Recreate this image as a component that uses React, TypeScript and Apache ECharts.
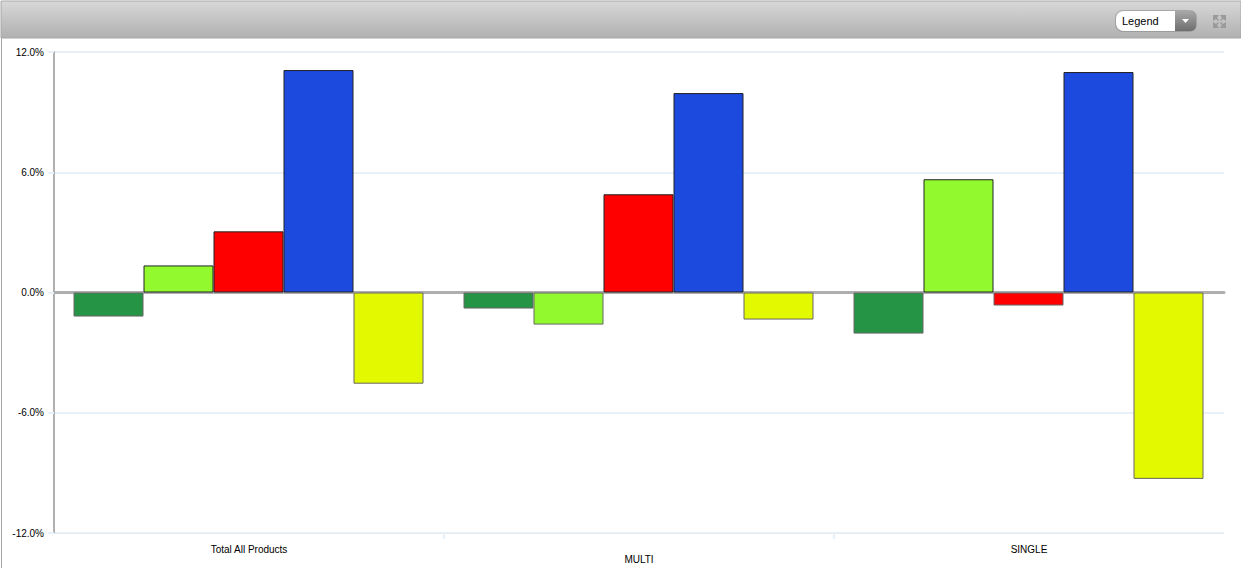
import React, { useEffect, useRef } from "react";
import * as echarts from "echarts";

const categories = ["Total All Products", "MULTI", "SINGLE"];
const seriesNames = ["Series 1", "Series 2", "Series 3", "Series 4", "Series 5"];
const seriesColors = ["#259445", "#92F92F", "#FF0000", "#1C49DE", "#E3F900"];
const values1 = [-1.2, -0.8, -2.05];
const values2 = [1.35, -1.6, 5.65];
const values3 = [3.05, 4.9, -0.65];
const values4 = [11.1, 9.95, 11.0];
const values5 = [-4.55, -1.35, -9.3];
const allValues = [values1, values2, values3, values4, values5];
const boundaryTicks = [1, 2];

export default function App() {
  const ref = useRef<HTMLDivElement>(null);
  useEffect(() => {
    document.body.style.margin = "0";
    document.body.style.background = "#fff";
    const chart = echarts.init(ref.current!, undefined, { renderer: "svg" });
    const arrows = [
      [[1213, 15], [1219, 15], [1217, 18], [1219, 20], [1218, 21], [1216, 19], [1213, 21]],
      [[1226, 15], [1220, 15], [1222, 18], [1220, 20], [1221, 21], [1223, 19], [1226, 21]],
      [[1213, 28], [1219, 28], [1217, 25], [1219, 23], [1218, 22], [1216, 24], [1213, 22]],
      [[1226, 28], [1220, 28], [1222, 25], [1220, 23], [1221, 22], [1223, 24], [1226, 22]],
    ];
    chart.setOption({
      animation: false,
      backgroundColor: "#fff",
      textStyle: { fontFamily: "Liberation Sans" },
      grid: { left: 54, right: 17, top: 52, bottom: 35 },
      xAxis: [
        {
          type: "category",
          data: categories,
          position: "bottom",
          axisLine: { onZero: false, show: true, lineStyle: { color: "#E6ECF0", width: 1 } },
          axisTick: { show: false },
          axisLabel: {
            color: "#000",
            fontSize: 10,
            margin: 11,
            lineHeight: 10,
            interval: 0,
            formatter: (v: string, i: number) => (i % 2 === 1 ? `\n${v}` : `${v}\n`),
          },
        },
        {
          type: "value",
          min: 0,
          max: categories.length,
          position: "bottom",
          axisLine: { onZero: false, show: false },
          axisLabel: { show: false },
          splitLine: { show: false },
          axisTick: {
            show: true,
            length: 6,
            customValues: boundaryTicks,
            lineStyle: { color: "#E8F0F8", width: 2 },
          },
        },
        {
          type: "category",
          data: categories,
          position: "bottom",
          axisLine: { onZero: true, show: true, lineStyle: { color: "#AFAFAF", width: 3 } },
          axisTick: { show: false },
          axisLabel: { show: false },
        },
      ],
      yAxis: {
        type: "value",
        min: -12,
        max: 12,
        interval: 6,
        axisLine: { show: true, lineStyle: { color: "#B0B0B0", width: 2 } },
        axisTick: { show: true, length: 6, lineStyle: { color: "#E8F0F8", width: 2 } },
        axisLabel: {
          color: "#000",
          fontSize: 10,
          margin: 10,
          formatter: (v: number) => `${v.toFixed(1)}%`,
        },
        splitLine: { show: true, lineStyle: { color: "#E8F0F8", width: 2 } },
      },
      series: [
        ...allValues.map((vals, s) => ({
          type: "bar",
          name: seriesNames[s],
          barWidth: 70,
          barGap: 0,
          data: vals.map((v) => ({
            value: v,
            itemStyle: {
              color: seriesColors[s],
              borderWidth: 1,
              borderColor: v >= 0 ? "#222222" : "#666666",
            },
          })),
        })),
        { type: "bar", name: "spacer", barWidth: 1, barGap: 0, data: [] },
      ],
      graphic: [
        {
          type: "rect",
          silent: true,
          shape: { x: 1, y: 1, width: 1240, height: 37 },
          style: {
            fill: new echarts.graphic.LinearGradient(0, 0, 0, 1, [
              { offset: 0, color: "#D8D8D8" },
              { offset: 1, color: "#B0B0B0" },
            ]),
            stroke: "#A8A8A8",
            lineWidth: 1,
          },
        },
        {
          type: "line",
          silent: true,
          shape: { x1: 1.5, y1: 38, x2: 1.5, y2: 568 },
          style: { stroke: "#A8A8A8", lineWidth: 1 },
        },
        {
          type: "rect",
          silent: true,
          shape: { x: 1116, y: 11, width: 59, height: 20, r: [8, 0, 0, 8] },
          style: { fill: "#FFFFFF" },
        },
        {
          type: "rect",
          silent: true,
          shape: { x: 1175, y: 11, width: 21, height: 20, r: [0, 5, 5, 0] },
          style: {
            fill: new echarts.graphic.LinearGradient(0, 0, 0, 1, [
              { offset: 0, color: "#A8A8A8" },
              { offset: 1, color: "#6E6E6E" },
            ]),
          },
        },
        {
          type: "rect",
          silent: true,
          shape: { x: 1115.5, y: 10.5, width: 81, height: 21, r: 7 },
          style: { fill: "transparent", stroke: "rgba(130,130,130,0.5)", lineWidth: 1 },
        },
        {
          type: "polygon",
          silent: true,
          shape: { points: [[1182, 19], [1189, 19], [1185.5, 23]] },
          style: { fill: "#FFFFFF" },
        },
        {
          type: "text",
          silent: true,
          x: 1122,
          y: 15,
          style: { text: "Legend", fill: "#000", fontSize: 11, fontFamily: "Liberation Sans" },
        },
        ...arrows.map((points) => ({
          type: "polygon",
          silent: true,
          shape: { points },
          style: { fill: "#9A9A9A" },
        })),
      ],
    });
    return () => chart.dispose();
  }, []);
  return <div ref={ref} style={{ width: 1241, height: 568 }} />;
}
